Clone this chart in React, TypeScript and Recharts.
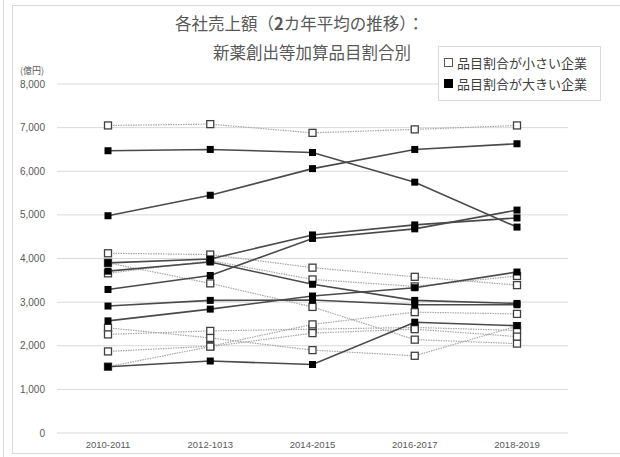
import { LineChart, Line, XAxis, YAxis, CartesianGrid } from "recharts";

// 期間（2カ年平均）
const periods = ["2010-2011", "2012-1013", "2014-2015", "2016-2017", "2018-2019"];

// 品目割合が小さい企業（億円）
const small1 = [7050, 7080, 6880, 6960, 7050];
const small2 = [4120, 4090, 3790, 3580, 3390];
const small3 = [3660, 3950, 3520, 3360, 3600];
const small4 = [3900, 3430, 2890, 2140, 2050];
const small5 = [2410, 2180, 1900, 1770, 2450];
const small6 = [2260, 2340, 2380, 2420, 2350];
const small7 = [1870, 1990, 2490, 2770, 2730];
const small8 = [1520, 1980, 2290, 2380, 2210];

// 品目割合が大きい企業（億円）
const large1 = [6470, 6500, 6430, 5750, 4720];
const large2 = [4980, 5450, 6060, 6500, 6630];
const large3 = [3900, 3990, 4540, 4770, 4930];
const large4 = [3710, 3920, 3410, 3040, 2970];
const large5 = [3290, 3610, 4460, 4680, 5110];
const large6 = [2910, 3040, 3050, 2940, 2940];
const large7 = [2570, 2840, 3140, 3330, 3690];
const large8 = [1520, 1650, 1570, 2540, 2460];

const yTicks = [0, 1000, 2000, 3000, 4000, 5000, 6000, 7000, 8000];

const smallSeries = [small1, small2, small3, small4, small5, small6, small7, small8];
const largeSeries = [large1, large2, large3, large4, large5, large6, large7, large8];

const data = periods.map((period, i) => {
  const row: Record<string, string | number> = { period };
  smallSeries.forEach((s, k) => (row[`s${k + 1}`] = s[i]));
  largeSeries.forEach((s, k) => (row[`l${k + 1}`] = s[i]));
  return row;
});

const axisFont = "'Liberation Sans', Arial, sans-serif";
const jpFont = "'Noto Sans CJK JP', 'Noto Sans', sans-serif";

const HollowSquare = (props: any) => {
  const { cx, cy, dataKey, index } = props;
  if (cx == null || cy == null) return <g key={`${dataKey}-${index}`} />;
  return (
    <rect
      key={`${dataKey}-${index}`}
      x={cx - 3.5}
      y={cy - 3.5}
      width={7}
      height={7}
      fill="#fff"
      stroke="#404040"
      strokeWidth={1.3}
    />
  );
};

const FilledSquare = (props: any) => {
  const { cx, cy, dataKey, index } = props;
  if (cx == null || cy == null) return <g key={`${dataKey}-${index}`} />;
  return (
    <rect
      key={`${dataKey}-${index}`}
      x={cx - 3.5}
      y={cy - 3.5}
      width={7}
      height={7}
      fill="#000"
    />
  );
};

const App = () => {
  return (
    <div style={{ position: "absolute", left: 0, top: 0, width: 620, height: 457, background: "#fff" }}>
      <div style={{ position: "absolute", left: 3, top: 0, width: 1, height: 457, background: "#d9d9d9" }} />
      <div
        style={{
          position: "absolute",
          left: 12,
          top: 5,
          width: 620,
          height: 449,
          border: "1px solid #d9d9d9",
          boxSizing: "border-box",
        }}
      />

      <div
        style={{
          position: "absolute",
          left: 175,
          top: 11,
          fontFamily: jpFont,
          fontSize: 16.5,
          color: "#595959",
          whiteSpace: "nowrap",
          lineHeight: "24px",
        }}
      >
        各社売上額（<b>2</b>カ年平均の推移）：
      </div>
      <div
        style={{
          position: "absolute",
          left: 213,
          top: 40,
          fontFamily: jpFont,
          fontSize: 16.5,
          color: "#595959",
          whiteSpace: "nowrap",
          lineHeight: "24px",
        }}
      >
        新薬創出等加算品目割合別
      </div>

      <div
        style={{
          position: "absolute",
          left: 20,
          top: 64,
          fontFamily: jpFont,
          fontSize: 9,
          color: "#595959",
          whiteSpace: "nowrap",
        }}
      >
        (億円)
      </div>

      <LineChart
        width={620}
        height={457}
        data={data}
        margin={{ top: 84, right: 52, bottom: 0, left: 0 }}
        style={{ position: "absolute", left: 0, top: 0 }}
      >
        <CartesianGrid vertical={false} stroke="#d9d9d9" />
        <XAxis
          dataKey="period"
          height={24}
          padding={{ left: 51, right: 51 }}
          axisLine={false}
          tickLine={false}
          tickMargin={2}
          tick={{ fontSize: 9.5, fill: "#595959", fontFamily: axisFont }}
        />
        <YAxis
          width={57}
          domain={[0, 8000]}
          ticks={yTicks}
          interval={0}
          axisLine={false}
          tickLine={false}
          tickMargin={6}
          tickFormatter={(v: number) => v.toLocaleString("en-US")}
          tick={{ fontSize: 10, fill: "#595959", fontFamily: axisFont }}
        />
        {smallSeries.map((_, k) => (
          <Line
            key={`s${k + 1}`}
            type="linear"
            dataKey={`s${k + 1}`}
            stroke="#a6a6a6"
            strokeWidth={1.2}
            strokeDasharray="1.5 1"
            dot={HollowSquare}
            activeDot={false}
            isAnimationActive={false}
          />
        ))}
        {largeSeries.map((_, k) => (
          <Line
            key={`l${k + 1}`}
            type="linear"
            dataKey={`l${k + 1}`}
            stroke="#4a4a4a"
            strokeWidth={1.6}
            dot={FilledSquare}
            activeDot={false}
            isAnimationActive={false}
          />
        ))}
      </LineChart>

      <div
        style={{
          position: "absolute",
          left: 438,
          top: 46,
          width: 163,
          height: 55,
          border: "1px solid #d9d9d9",
          background: "#fff",
          boxSizing: "border-box",
          fontFamily: jpFont,
          fontSize: 13,
          color: "#404040",
          padding: "5px 0 0 5px",
        }}
      >
        <div style={{ display: "flex", alignItems: "center", height: 21, whiteSpace: "nowrap" }}>
          <span
            style={{
              display: "inline-block",
              width: 9,
              height: 9,
              border: "1px solid #595959",
              boxSizing: "border-box",
              marginRight: 4,
            }}
          />
          品目割合が小さい企業
        </div>
        <div style={{ display: "flex", alignItems: "center", height: 21, whiteSpace: "nowrap" }}>
          <span
            style={{
              display: "inline-block",
              width: 9,
              height: 9,
              background: "#000",
              marginRight: 4,
            }}
          />
          品目割合が大きい企業
        </div>
      </div>
    </div>
  );
};

export default App;
